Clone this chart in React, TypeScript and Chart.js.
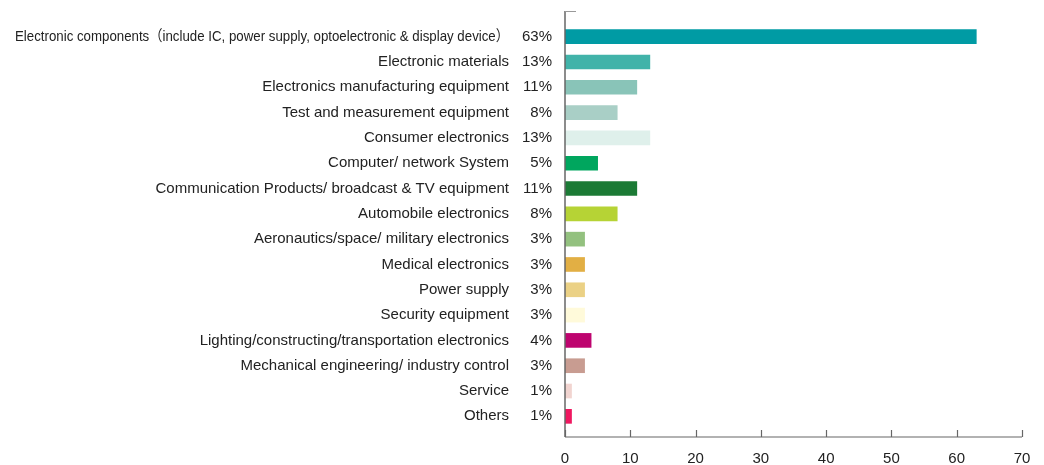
import React, { useEffect, useRef } from "react";
import { Chart, registerables } from "chart.js";

Chart.register(...registerables);

const categories: string[] = [
  "Electronic components（include IC, power supply, optoelectronic & display device）",
  "Electronic materials",
  "Electronics manufacturing equipment",
  "Test and measurement equipment",
  "Consumer electronics",
  "Computer/ network System",
  "Communication Products/ broadcast & TV equipment",
  "Automobile electronics",
  "Aeronautics/space/ military electronics",
  "Medical electronics",
  "Power supply",
  "Security equipment",
  "Lighting/constructing/transportation electronics",
  "Mechanical engineering/ industry control",
  "Service",
  "Others",
];

const values: number[] = [63, 13, 11, 8, 13, 5, 11, 8, 3, 3, 3, 3, 4, 3, 1, 1];

const barColors: string[] = [
  "#009BA4",
  "#41B3A9",
  "#89C4B8",
  "#A9CFC6",
  "#DFF0EB",
  "#00A65E",
  "#1B7A35",
  "#B6D335",
  "#93C17F",
  "#E2AF44",
  "#EBD185",
  "#FFFADA",
  "#BE046F",
  "#C89C91",
  "#F1D4D0",
  "#EF1860",
];

const xTicks: number[] = [0, 10, 20, 30, 40, 50, 60, 70];

const FONT = "'Liberation Sans', Arial, 'Noto Sans CJK SC', sans-serif";
const TEXT_COLOR = "#222222";
const AXIS_COLOR = "#666666";
const LABEL_MAX_WIDTH = 494;

const decorPlugin = {
  id: "decor",
  afterDraw(chart: any) {
    const { ctx, chartArea, scales } = chart;
    const xs = scales.x;
    const ys = scales.y;
    const axisBottom = chartArea.bottom + 8;
    const axisTop = chartArea.top - 13;
    ctx.save();
    // y axis line
    ctx.strokeStyle = AXIS_COLOR;
    ctx.lineWidth = 1.5;
    ctx.beginPath();
    ctx.moveTo(chartArea.left, axisTop);
    ctx.lineTo(chartArea.left, axisBottom);
    ctx.stroke();
    // top small tick
    ctx.strokeStyle = "#999999";
    ctx.lineWidth = 1;
    ctx.beginPath();
    ctx.moveTo(chartArea.left, axisTop + 0.5);
    ctx.lineTo(chartArea.left + 11, axisTop + 0.5);
    ctx.stroke();
    // x axis line
    ctx.strokeStyle = AXIS_COLOR;
    ctx.lineWidth = 1.2;
    ctx.beginPath();
    ctx.moveTo(chartArea.left, axisBottom);
    ctx.lineTo(chartArea.right, axisBottom);
    ctx.stroke();
    // x tick marks (inward)
    for (const t of xTicks) {
      const px = Math.round(xs.getPixelForValue(t)) + 0.5;
      ctx.beginPath();
      ctx.moveTo(px, axisBottom);
      ctx.lineTo(px, axisBottom - 7);
      ctx.stroke();
    }
    // category labels and percentages
    ctx.fillStyle = TEXT_COLOR;
    ctx.font = `15px ${FONT}`;
    ctx.textAlign = "right";
    ctx.textBaseline = "middle";
    const labelRight = chartArea.left - 56;
    categories.forEach((c, i) => {
      const py = ys.getPixelForValue(i);
      const w = ctx.measureText(c).width;
      if (w > LABEL_MAX_WIDTH) {
        ctx.save();
        ctx.translate(labelRight, py);
        ctx.scale(LABEL_MAX_WIDTH / w, 1);
        ctx.fillText(c, 0, 0);
        ctx.restore();
      } else {
        ctx.fillText(c, labelRight, py);
      }
      ctx.fillText(`${values[i]}%`, chartArea.left - 13, py);
    });
    ctx.restore();
  },
};

export default function App() {
  const canvasRef = useRef<HTMLCanvasElement | null>(null);

  useEffect(() => {
    document.body.style.margin = "0";
    const canvas = canvasRef.current;
    if (!canvas) return;
    const chart = new Chart(canvas, {
      type: "bar",
      data: {
        labels: categories,
        datasets: [
          {
            data: values,
            backgroundColor: barColors,
            borderWidth: 0,
            barThickness: 14,
          },
        ],
      },
      options: {
        indexAxis: "y",
        animation: false,
        responsive: true,
        maintainAspectRatio: false,
        layout: { padding: { left: 0, right: 22, top: 24, bottom: 0 } },
        plugins: {
          legend: { display: false },
          tooltip: { enabled: false },
        },
        scales: {
          x: {
            type: "linear",
            min: 0,
            max: 70,
            afterBuildTicks: (scale: any) => {
              scale.ticks = xTicks.map((v) => ({ value: v }));
            },
            afterFit: (scale: any) => {
              scale.height = 36;
              scale.paddingLeft = 0;
              scale.paddingRight = 0;
            },
            grid: { display: false, drawTicks: false },
            border: { display: false },
            ticks: {
              padding: 21,
              color: TEXT_COLOR,
              font: { family: FONT, size: 15 },
              maxRotation: 0,
            },
          },
          y: {
            type: "category",
            afterFit: (scale: any) => {
              scale.width = 565;
              scale.paddingTop = 0;
              scale.paddingBottom = 0;
            },
            grid: { display: false, drawTicks: false },
            border: { display: false },
            ticks: { display: false },
          },
        },
      },
      plugins: [decorPlugin],
    });
    return () => chart.destroy();
  }, []);

  return (
    <div style={{ position: "absolute", left: 0, top: 0, width: 1044, height: 465 }}>
      <canvas ref={canvasRef} />
    </div>
  );
}
